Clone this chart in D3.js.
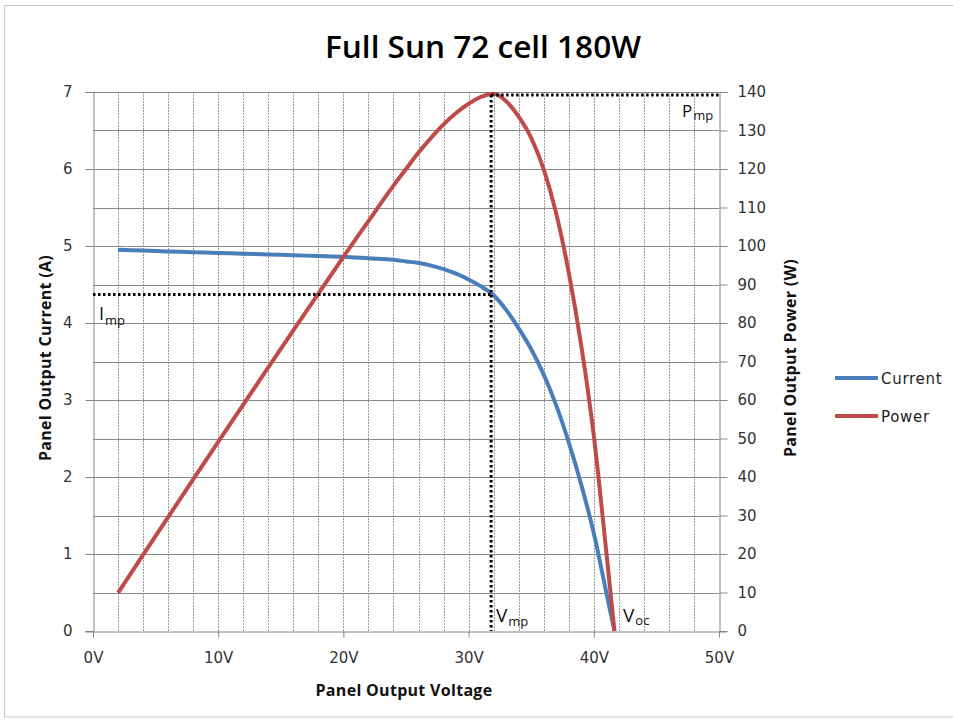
<!DOCTYPE html>
<html>
<head>
<meta charset="utf-8">
<script src="https://cdn.jsdelivr.net/npm/d3@7"></script>
<style>
  html, body { margin: 0; padding: 0; background: #fff; }
  svg { display: block; }
</style>
</head>
<body>
<svg id="chart" width="953" height="721"></svg>
<script>
// ---- data ----
const voltage = [2, 4, 6, 8, 10, 12, 14, 16, 18, 20, 22, 24, 25, 26, 27, 28, 29, 30, 31, 32, 33, 34, 35, 36, 37, 38, 39, 40, 41, 41.65];
const current = [4.95, 4.94, 4.93, 4.92, 4.91, 4.90, 4.89, 4.88, 4.87, 4.86, 4.84, 4.82, 4.80, 4.78, 4.745, 4.70, 4.64, 4.565, 4.475, 4.36, 4.17, 3.93, 3.66, 3.33, 2.93, 2.45, 1.90, 1.27, 0.50, 0];
const power   = [9.9, 19.76, 29.58, 39.36, 49.1, 58.8, 68.46, 78.08, 87.66, 97.2, 106.48, 115.68, 120.0, 124.28, 128.1, 131.6, 134.56, 136.95, 138.73, 139.52, 137.61, 133.62, 128.1, 119.88, 108.41, 93.1, 74.1, 50.8, 20.5, 0];
const xTicks = [0, 10, 20, 30, 40, 50];
const xTickLabels = ["0V", "10V", "20V", "30V", "40V", "50V"];
const xMinorGrid = [2, 4, 6, 8, 10, 12, 14, 16, 18, 20, 22, 24, 26, 28, 30, 32, 34, 36, 38, 40, 42, 44, 46, 48];
const leftTicks = [0, 1, 2, 3, 4, 5, 6, 7];
const rightTicks = [0, 10, 20, 30, 40, 50, 60, 70, 80, 90, 100, 110, 120, 130, 140];
const seriesNames = ["Current", "Power"];
const seriesColors = ["#4a7ebb", "#be4b48"];
const Vmp = 31.8, Imp = 4.38, Pmp = 139.5, Voc = 41.65;

// ---- layout ----
const svg = d3.select("#chart");
const L = 93, R = 719, T = 92, B = 631;
const x = d3.scaleLinear().domain([0, 50]).range([L, R]);
const yL = d3.scaleLinear().domain([0, 7]).range([B, T]);
const yR = d3.scaleLinear().domain([0, 140]).range([B, T]);

// outer border
svg.append("rect").attr("x", 4.5).attr("y", 5.5).attr("width", 960).attr("height", 711.5)
  .attr("fill", "none").attr("stroke", "#c8c8c8").attr("stroke-width", 1);

// vertical grid
svg.append("g").selectAll("line").data(xMinorGrid).join("line")
  .attr("x1", d => Math.round(x(d)) + 0.5).attr("x2", d => Math.round(x(d)) + 0.5)
  .attr("y1", T).attr("y2", B)
  .attr("stroke", "#9a9a9a").attr("stroke-width", 1).attr("stroke-dasharray", "2,1");

// horizontal grid (right axis ticks)
svg.append("g").selectAll("line").data(rightTicks.filter(d => d > 0)).join("line")
  .attr("x1", L).attr("x2", R)
  .attr("y1", d => Math.round(yR(d)) + 0.5).attr("y2", d => Math.round(yR(d)) + 0.5)
  .attr("stroke", "#8a8a8a").attr("stroke-width", 1);

const tickFont = "'DejaVu Sans', sans-serif";

// left axis
const gL = svg.append("g").attr("transform", `translate(${L + 0.5},0)`)
  .call(d3.axisLeft(yL).tickValues(leftTicks).tickSize(8).tickPadding(13).tickFormat(d3.format("d")));
// right axis
const gR = svg.append("g").attr("transform", `translate(${R + 0.5},0)`)
  .call(d3.axisRight(yR).tickValues(rightTicks).tickSize(8).tickPadding(10).tickFormat(d3.format("d")));
// bottom axis
const gB = svg.append("g").attr("transform", `translate(0,${B + 0.5})`)
  .call(d3.axisBottom(x).tickValues(xTicks).tickSize(6).tickPadding(15).tickFormat((d, i) => xTickLabels[i]));

[gL, gR, gB].forEach(g => {
  g.select(".domain").attr("stroke", "#868686");
  g.selectAll(".tick line").attr("stroke", "#868686");
  g.selectAll(".tick text").attr("fill", "#333").style("font-family", tickFont).style("font-size", "15px");
});
gB.select(".domain").attr("d", `M${L - 8},0.5H${R + 8}`);

// series
const pts = voltage.map((v, i) => ({ v, i: current[i], p: power[i] }));
const lineI = d3.line().x(d => x(d.v)).y(d => yL(d.i)).curve(d3.curveMonotoneX);
const lineP = d3.line().x(d => x(d.v)).y(d => yR(d.p)).curve(d3.curveMonotoneX);
svg.append("path").datum(pts).attr("d", lineI).attr("fill", "none")
  .attr("stroke", seriesColors[0]).attr("stroke-width", 4).attr("stroke-linejoin", "round");
svg.append("path").datum(pts).attr("d", lineP).attr("fill", "none")
  .attr("stroke", seriesColors[1]).attr("stroke-width", 4).attr("stroke-linejoin", "round");

// annotation dotted lines
function dl(x1, y1, x2, y2) {
  svg.append("line").attr("x1", x1).attr("y1", y1).attr("x2", x2).attr("y2", y2)
    .attr("stroke", "#000").attr("stroke-width", 3).attr("stroke-dasharray", "2.5,2.5");
}
dl(L, Math.round(yL(Imp)) + 0.5, x(Vmp), Math.round(yL(Imp)) + 0.5);
dl(x(Vmp), 95, x(Vmp), B);
dl(x(Vmp), 95, R, 95);

// annotation labels
const annFont = "'Open Sans', sans-serif";
function label(px, py, main, sub, dy, size) {
  const t = svg.append("text").attr("x", px).attr("y", py)
    .style("font-family", annFont).style("font-size", size + "px").attr("fill", "#111");
  t.append("tspan").text(main);
  t.append("tspan").attr("dy", dy).attr("dx", 1).style("font-size", "13px").text(sub);
}
label(99, 320, "I", "mp", 5, 18);
label(682, 117, "P", "mp", 3, 17);
label(496, 622, "V", "mp", 3.5, 19);
label(623, 622, "V", "oc", 2.5, 19);

// title
svg.append("text").attr("x", 483).attr("y", 58).attr("text-anchor", "middle")
  .style("font-family", "'Open Sans', sans-serif").style("font-size", "31px").style("font-weight", 600)
  .attr("textLength", 316).attr("lengthAdjust", "spacingAndGlyphs")
  .attr("fill", "#000").text("Full Sun 72 cell 180W");

// axis titles
const titleFont = "'Open Sans', sans-serif";
function axisTitle(sel) {
  return sel.style("font-family", titleFont).style("font-size", "16px").style("font-weight", 700)
    .style("letter-spacing", "0.3px").attr("text-anchor", "middle").attr("fill", "#111");
}
axisTitle(svg.append("text").attr("transform", `translate(51,358) rotate(-90)`)).text("Panel Output Current (A)");
axisTitle(svg.append("text").attr("transform", `translate(796,358) rotate(-90)`)).text("Panel Output Power (W)");
axisTitle(svg.append("text").attr("x", 404).attr("y", 696)).text("Panel Output Voltage");

// legend
const leg = svg.append("g");
seriesNames.forEach((n, i) => {
  const yy = 378 + i * 38;
  leg.append("line").attr("x1", 835).attr("x2", 878).attr("y1", yy).attr("y2", yy)
    .attr("stroke", seriesColors[i]).attr("stroke-width", 4);
  leg.append("text").attr("x", 881).attr("y", yy + 5.5)
    .style("font-family", tickFont).style("font-size", "15px").style("letter-spacing", "0.7px")
    .attr("fill", "#222").text(n);
});
</script>
</body>
</html>
